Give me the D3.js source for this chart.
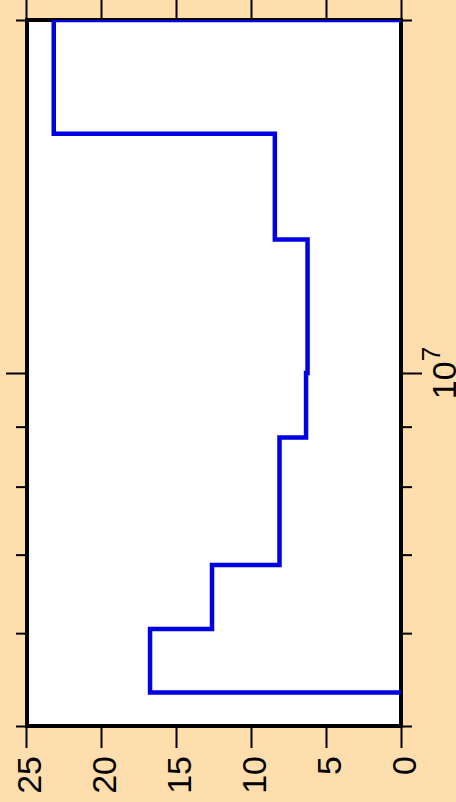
<!DOCTYPE html>
<html>
<head>
<meta charset="utf-8">
<script src="https://cdn.jsdelivr.net/npm/d3@7"></script>
<style>
  html, body { margin: 0; padding: 0; background: #FFDEAD; }
  svg { display: block; }
</style>
</head>
<body>
<script>
// Tick values for the linear value axis and the logarithmic axis
const valueTicks = [0, 5, 10, 15, 20, 25];
const logMajorTicks = [1e7];
const logMinorTicks = [5e6, 6e6, 7e6, 8e6, 9e6, 2e7];

// Step profile: layer boundaries on the log axis and the value inside each layer
const layerBounds = [2e7, 1.6e7, 1.3e7, 1e7, 8.81e6, 6.86e6, 6.05e6, 5.34e6];
const layerValues = [23.15, 8.41, 6.23, 6.33, 8.1, 12.6, 16.73];

const W = 456, H = 802;
const box = { left: 27, right: 401, top: 20, bottom: 726 };

const x = d3.scaleLinear().domain([0, 25]).range([401, 26]);
const y = d3.scaleLog().domain([5e6, 2e7]).range([726, 20]);

const svg = d3.select("body").append("svg")
  .attr("width", W).attr("height", H)
  .style("font-family", "'Liberation Sans', Arial, Helvetica, sans-serif");

svg.append("rect").attr("width", W).attr("height", H).attr("fill", "#FFDEAD");

// plot area
svg.append("rect")
  .attr("x", box.left).attr("y", box.top)
  .attr("width", box.right - box.left).attr("height", box.bottom - box.top)
  .attr("fill", "#fff").attr("stroke", "#000").attr("stroke-width", 4);

svg.append("clipPath").attr("id", "plotClip")
  .append("rect")
  .attr("x", box.left).attr("y", box.top)
  .attr("width", box.right - box.left).attr("height", box.bottom - box.top);

// build the step outline from the layer arrays
const pts = [[0, layerBounds[0]]];
layerValues.forEach((v, i) => {
  pts.push([v, layerBounds[i]]);
  pts.push([v, layerBounds[i + 1]]);
});
pts.push([0, layerBounds[layerBounds.length - 1]]);

const line = d3.line().x(d => x(d[0])).y(d => y(d[1]));

svg.append("path")
  .datum(pts)
  .attr("clip-path", "url(#plotClip)")
  .attr("d", line)
  .attr("fill", "none")
  .attr("stroke", "#0000e0")
  .attr("stroke-width", 4.5)
  .attr("stroke-linejoin", "miter")
  .attr("stroke-linecap", "butt");

function styleAxis(g) {
  g.select(".domain").remove();
  g.selectAll(".tick line").attr("stroke", "#000").attr("stroke-width", 2);
}

// top and bottom value axes
svg.append("g").attr("transform", `translate(0,${box.top - 2})`)
  .call(d3.axisTop(x).tickValues(valueTicks).tickSize(20).tickFormat(""))
  .call(styleAxis);

const bottomAxis = svg.append("g").attr("transform", `translate(0,${box.bottom + 2})`)
  .call(d3.axisBottom(x).tickValues(valueTicks).tickSize(20).tickFormat(d3.format("d")))
  .call(styleAxis);
bottomAxis.selectAll(".tick text")
  .attr("transform", "rotate(-90)")
  .attr("text-anchor", "end")
  .attr("x", -28)
  .attr("y", 14)
  .attr("dy", null)
  .attr("fill", "#000")
  .style("font-size", "34px");

// left and right log axes
[[d3.axisLeft, box.left - 2], [d3.axisRight, box.right + 2]].forEach(([axisFn, xpos]) => {
  svg.append("g").attr("transform", `translate(${xpos},0)`)
    .call(axisFn(y).tickValues(logMinorTicks).tickSize(9).tickFormat(""))
    .call(styleAxis);
  svg.append("g").attr("transform", `translate(${xpos},0)`)
    .call(axisFn(y).tickValues(logMajorTicks).tickSize(19).tickFormat(""))
    .call(styleAxis);
});

// decade label on the right axis
logMajorTicks.forEach(t => {
  const exp = Math.round(Math.log10(t));
  const lab = svg.append("text")
    .attr("transform", `translate(456,${y(t)}) rotate(-90)`)
    .attr("text-anchor", "middle")
    .attr("fill", "#000")
    .style("font-size", "34px");
  lab.append("tspan").text("10");
  lab.append("tspan").attr("dy", -16).style("font-size", "26px").text(exp);
});
</script>
</body>
</html>
